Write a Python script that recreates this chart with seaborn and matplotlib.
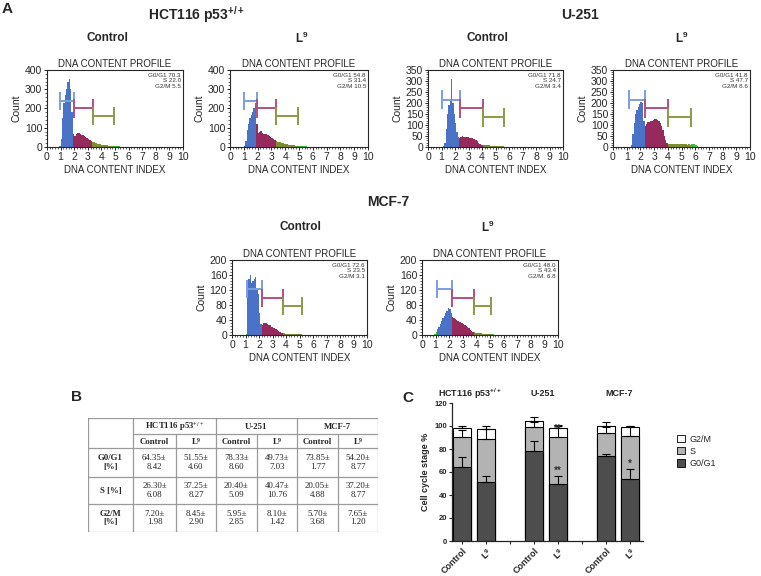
import numpy as np
import pandas as pd
import matplotlib
matplotlib.use("Agg")
import matplotlib.pyplot as plt
from matplotlib.ticker import MultipleLocator
from matplotlib.patches import Patch
import seaborn as sns

sns.set_style("ticks")
plt.rcParams["font.family"] = ["Liberation Sans", "DejaVu Sans"]
plt.rcParams["mathtext.default"] = "regular"

W, H = 761, 576

# ---------------- DATA ----------------
# histogram counts in 0.1-wide DNA-index bins, starting at hist_start
hist_start = [0.9, 1.0, 1.1, 1.3, 1.0, 0.9]
hct_ctrl_counts = [5, 40, 150, 230, 270, 300, 340, 355, 300, 180, 70,
                   55, 65, 75, 72, 70, 60, 60, 55, 50, 48, 40, 38, 32,
                   28, 25, 22, 20, 18, 16, 14, 12, 11, 10, 9, 8, 7, 6, 6, 5, 5,
                   4, 3, 3, 3, 2, 2, 2, 2, 1, 1]
hct_l9_counts = [3, 30, 90, 120, 150, 165, 180, 200, 230, 120,
                 75, 80, 82, 75, 70, 68, 65, 60, 55, 50, 45, 40, 35,
                 30, 28, 26, 24, 22, 20, 18, 16, 14, 12, 11, 10, 9, 8, 7, 6, 5,
                 5, 4, 4, 3, 3, 3, 2, 2, 2, 1]
u251_ctrl_counts = [5, 20, 80, 150, 190, 210, 310, 200, 150, 110, 70, 45, 40,
                    45, 48, 47, 46, 45, 44, 42, 42, 40, 38, 35, 30, 25, 18, 12, 9, 8,
                    8, 8, 7, 7, 7, 6, 6, 6, 5, 5, 5, 4, 4, 3, 3,
                    2, 2, 1, 1]
u251_l9_counts = [10, 60, 110, 150, 170, 180, 195, 205, 200, 120,
                  95, 105, 112, 115, 118, 120, 122, 125, 125, 122, 118, 110, 95, 75, 50, 30, 18,
                  15, 14, 15, 13, 14, 15, 12, 14, 13, 12, 14, 13, 12, 12, 11, 12, 10,
                  12, 14, 15, 10, 6, 2]
mcf_ctrl_counts = [3, 100, 150, 160, 140, 145, 150, 155, 120, 110, 60, 30,
                   28, 32, 33, 32, 30, 28, 26, 22, 20, 18, 15, 13, 10, 8, 6, 5,
                   5, 4, 4, 4, 3, 3, 3, 3, 2, 2, 2, 2, 2, 2,
                   1, 1, 1, 1]
mcf_l9_counts = [3, 8, 15, 22, 30, 38, 45, 52, 58, 65, 72, 70, 60,
                 48, 45, 42, 40, 38, 36, 35, 33, 30, 28, 25, 22, 18, 14, 10, 8,
                 7, 6, 6, 5, 5, 5, 4, 4, 4, 3, 3, 3, 2,
                 2, 2, 1, 1, 1, 1, 1]
hist_counts = [hct_ctrl_counts, hct_l9_counts, u251_ctrl_counts,
               u251_l9_counts, mcf_ctrl_counts, mcf_l9_counts]
# gate boundaries: G0/G1 start, G0/G1 end (= S start), S end, G2/M end
gate_bounds = [[0.95, 1.95, 3.35, 4.9], [1.0, 1.95, 3.35, 4.95],
               [1.0, 2.35, 4.1, 5.6], [1.2, 2.3, 4.05, 5.7],
               [1.1, 2.2, 3.8, 5.15], [1.1, 2.2, 3.85, 5.1]]
gate_levels = [[240, 200, 160], [240, 200, 160], [215, 175, 135],
               [215, 175, 135], [122, 100, 78], [122, 100, 78]]
y_max = [400, 400, 350, 350, 200, 200]
y_step = [100, 100, 50, 50, 40, 40]
stats_text = ["G0/G1 70.3\nS 22.0\nG2/M 5.5", "G0/G1 54.8\nS 31.4\nG2/M 10.5",
              "G0/G1 71.8\nS 24.7\nG2/M 3.4", "G0/G1 41.8\nS 47.7\nG2/M 8.6",
              "G0/G1 72.6\nS 23.5\nG2/M 3.1", "G0/G1 48.0\nS 43.4\nG2/M. 6.8"]

# table / bar chart
lines = ["HCT116 p53$^{+/+}$", "U-251", "MCF-7"]
conditions = ["Control", "L$^{9}$"]
g0g1_mean = [64.35, 51.55, 78.33, 49.73, 73.85, 54.20]
g0g1_sd = [8.42, 4.60, 8.60, 7.03, 1.77, 8.77]
s_mean = [26.30, 37.25, 20.40, 40.47, 20.05, 37.20]
s_sd = [6.08, 8.27, 5.09, 10.76, 4.88, 8.77]
g2m_mean = [7.20, 8.45, 5.95, 8.10, 5.70, 7.65]
g2m_sd = [1.98, 2.90, 2.85, 1.42, 3.68, 1.20]
bar_ids = ["HCT_C", "HCT_L", "U_C", "U_L", "M_C", "M_L"]
bar_order = ["HCT_C", "HCT_L", "gap1", "U_C", "U_L", "gap2", "M_C", "M_L"]
sig_bar = ["U_L", "U_L", "M_L"]
sig_y = [57, 93, 63]
sig_mark = ["**", "**", "*"]

# ---------------- FIGURE ----------------
fig = plt.figure(figsize=(W / 100, H / 100), dpi=100)


def px_axes(x0, y0, x1, y1):
    return fig.add_axes([x0 / W, 1 - y1 / H, (x1 - x0) / W, (y1 - y0) / H])


def ftext(x, y, s, **kw):
    fig.text(x / W, 1 - y / H, s, **kw)


phase_pal = {"pre": "#3dbb3d", "G0/G1": "#4a72c6", "S": "#962a5c",
             "G2/M": "#7f8e2c", "post": "#3dbb3d"}
gate_cols = ["#7d9de0", "#b44f80", "#8e9a45"]

hist_boxes = [(47, 70, 183, 147), (230, 70, 368, 147), (428, 70, 563, 147),
              (613, 70, 750, 147), (232, 260, 367, 335), (422, 260, 558, 335)]

for k, box in enumerate(hist_boxes):
    ax = px_axes(*box)
    counts = hist_counts[k]
    st = hist_start[k]
    centers = st + 0.05 + 0.1 * np.arange(len(counts))
    g = gate_bounds[k]
    phases = []
    for c in centers:
        if c < g[0]:
            phases.append("pre")
        elif c < g[1]:
            phases.append("G0/G1")
        elif c < g[2]:
            phases.append("S")
        elif c < g[3]:
            phases.append("G2/M")
        else:
            phases.append("post")
    df = pd.DataFrame({"dna": centers, "count": counts, "phase": phases})
    sns.histplot(data=df, x="dna", weights="count", hue="phase",
                 palette=phase_pal, binwidth=0.1,
                 binrange=(st, st + 0.1 * len(counts)), element="step",
                 fill=True, alpha=1, linewidth=0, legend=False, ax=ax)
    ym = y_max[k]
    d = 0.12 * ym
    for i in range(3):
        s0, s1 = g[i], g[i + 1]
        h = gate_levels[k][i]
        ax.hlines(h, s0, s1, color=gate_cols[i], lw=1.4, zorder=5)
        ax.vlines([s0, s1], h - d, h + d, color=gate_cols[i], lw=1.4, zorder=5)
    ax.set_xlim(0, 10)
    ax.set_ylim(0, ym)
    ax.xaxis.set_major_locator(MultipleLocator(1))
    ax.xaxis.set_minor_locator(MultipleLocator(0.2))
    ax.yaxis.set_major_locator(MultipleLocator(y_step[k]))
    ax.yaxis.set_minor_locator(MultipleLocator(y_step[k] / 5))
    ax.tick_params(which="major", length=2.5, width=0.7, labelsize=7.5, pad=1)
    ax.tick_params(which="minor", length=1.5, width=0.5)
    for sp in ax.spines.values():
        sp.set_linewidth(0.8)
    ax.set_title("DNA CONTENT PROFILE", fontsize=7, pad=2)
    ax.set_xlabel("DNA CONTENT INDEX", fontsize=7, labelpad=2)
    ax.set_ylabel("Count", fontsize=7.5, labelpad=2)
    ax.text(0.985, 0.965, stats_text[k], transform=ax.transAxes, ha="right",
            va="top", fontsize=4.5, linespacing=1.15, color="#333333")

# big titles
ftext(2, 13, "A", fontsize=11, fontweight="bold")
ftext(197, 15, "HCT116 p53$^{+/+}$", fontsize=10, fontweight="bold", ha="center", va="center")
ftext(580, 15, "U-251", fontsize=10, fontweight="bold", ha="center", va="center")
ftext(388, 202, "MCF-7", fontsize=10, fontweight="bold", ha="center", va="center")
for (x, y, s) in [(107, 38, conditions[0]), (302, 38, conditions[1]),
                  (487, 38, conditions[0]), (682, 38, conditions[1]),
                  (300, 227, conditions[0]), (488, 227, conditions[1])]:
    ftext(x, y, s, fontsize=8.5, fontweight="bold", ha="center", va="center")

# ---------------- TABLE (B) ----------------
ftext(71, 401, "B", fontsize=11, fontweight="bold")
tax = px_axes(88, 418, 378, 532)
tax.set_xlim(88, 378)
tax.set_ylim(532, 418)
tax.axis("off")
lc = "#9a9a9a"
xs = [88, 133, 176, 216, 257, 297, 338, 378]
ys = [418, 434, 448, 477, 504, 532]
for y in [418, 448, 477, 504, 532]:
    tax.plot([88, 378], [y, y], color=lc, lw=0.9)
tax.plot([133, 378], [434, 434], color=lc, lw=0.9)
for x in [88, 133, 216, 297, 378]:
    tax.plot([x, x], [418, 532], color=lc, lw=0.9)
for x in [176, 257, 338]:
    tax.plot([x, x], [434, 532], color=lc, lw=0.9)
serif = ["Liberation Serif", "DejaVu Serif"]
fs = 6.3
for j, name in enumerate(lines):
    tax.text((xs[1 + 2 * j] + xs[3 + 2 * j]) / 2, 426.5, name, family=serif,
             fontweight="bold", fontsize=fs, ha="center", va="center")
    for c in range(2):
        tax.text((xs[1 + 2 * j + c] + xs[2 + 2 * j + c]) / 2, 441.5, conditions[c],
                 family=serif, fontweight="bold", fontsize=fs, ha="center", va="center")
row_labels = ["G0/G1\n[%]", "S [%]", "G2/M\n[%]"]
row_means = [g0g1_mean, s_mean, g2m_mean]
row_sds = [g0g1_sd, s_sd, g2m_sd]
for r in range(3):
    yc = (ys[2 + r] + ys[3 + r]) / 2
    tax.text(110.5, yc, row_labels[r], family=serif, fontweight="bold",
             fontsize=fs, ha="center", va="center", linespacing=1.1)
    for c in range(6):
        tax.text((xs[1 + c] + xs[2 + c]) / 2, yc,
                 f"{row_means[r][c]:.2f}\u00b1\n{row_sds[r][c]:.2f}",
                 family=serif, fontsize=fs, ha="center", va="center",
                 linespacing=1.1, color="#222222")

# ---------------- BAR CHART (C) ----------------
ftext(402, 402, "C", fontsize=11, fontweight="bold")
bax = px_axes(452, 403, 643, 541)
g0 = np.array(g0g1_mean)
cum_s = g0 + np.array(s_mean)
cum_t = cum_s + np.array(g2m_mean)
bdf = pd.DataFrame({"cond": bar_ids, "g0": g0, "s": cum_s, "t": cum_t})
col_g2 = "white"
col_s = "#b3b3b3"
col_g0 = "#4d4d4d"
for col, fc in [("t", col_g2), ("s", col_s), ("g0", col_g0)]:
    sns.barplot(data=bdf, x="cond", y=col, order=bar_order, color=fc,
                saturation=1, edgecolor="black", linewidth=0.8, width=0.72,
                errorbar=None, ax=bax)
pos = [bar_order.index(b) for b in bar_ids]
for tops, sd in [(g0, g0g1_sd), (cum_s, s_sd), (cum_t, g2m_sd)]:
    bax.errorbar(pos, tops, yerr=[np.zeros(len(sd)), sd], fmt="none",
                 ecolor="black", elinewidth=0.8, capsize=3, capthick=0.8, zorder=10)
for b, y, m in zip(sig_bar, sig_y, sig_mark):
    bax.text(bar_order.index(b), y, m, ha="center", va="bottom", fontsize=7,
             fontweight="bold", color="#333333", zorder=11)
bax.set_xlim(-0.42, 7.54)
bax.set_ylim(0, 120)
bax.yaxis.set_major_locator(MultipleLocator(20))
bax.set_xticks(range(len(bar_order)))
xt_labels = []
for b in bar_order:
    if b.endswith("_C"):
        xt_labels.append(conditions[0])
    elif b.endswith("_L"):
        xt_labels.append(conditions[1])
    else:
        xt_labels.append("")
bax.set_xticklabels(xt_labels, rotation=45, ha="right", rotation_mode="anchor",
                    fontsize=6.5, fontweight="bold")
for lab in bax.get_yticklabels():
    lab.set_fontweight("bold")
bax.tick_params(axis="y", labelsize=5.5, length=2.5, width=0.8, pad=1)
bax.tick_params(axis="x", length=2.5, width=0.8, pad=1)
bax.set_xlabel("")
bax.set_ylabel("Cell cycle stage %", fontsize=6.5, fontweight="bold", labelpad=3)
sns.despine(ax=bax)
for sp in ["left", "bottom"]:
    bax.spines[sp].set_linewidth(0.9)

ftext(470, 394, lines[0], fontsize=6.5, fontweight="bold", ha="center", va="center")
ftext(543, 394, lines[1], fontsize=6.5, fontweight="bold", ha="center", va="center")
ftext(619, 394, lines[2], fontsize=6.5, fontweight="bold", ha="center", va="center")

handles = [Patch(facecolor=col_g2, edgecolor="black", lw=0.6),
           Patch(facecolor=col_s, edgecolor="black", lw=0.6),
           Patch(facecolor=col_g0, edgecolor="black", lw=0.6)]
fig.legend(handles, ["G2/M", "S", "G0/G1"], loc="upper left",
           bbox_to_anchor=(673 / W, 1 - 431 / H), frameon=False, fontsize=6.5,
           handlelength=0.9, handleheight=0.9, handletextpad=0.5,
           labelspacing=0.35, borderaxespad=0)

fig.savefig("out.png", dpi=100)
